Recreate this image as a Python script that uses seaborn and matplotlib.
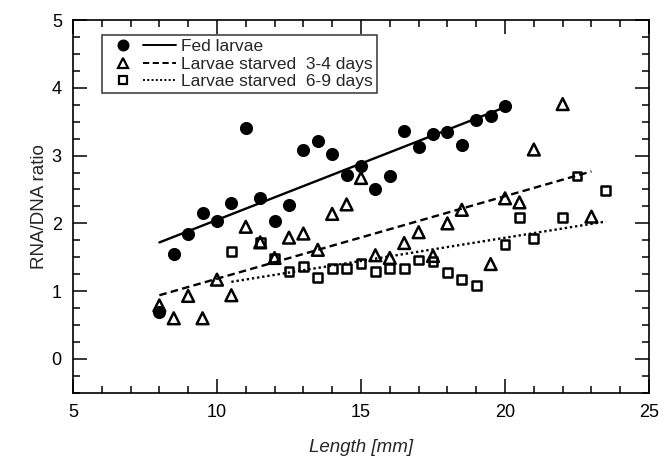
import numpy as np
import pandas as pd

import matplotlib
matplotlib.use("Agg")
import matplotlib.pyplot as plt
from matplotlib.lines import Line2D
from matplotlib.legend_handler import HandlerTuple
from matplotlib.ticker import MultipleLocator
import seaborn as sns

# =========================
# Datos
# =========================
fed_length = [8.0, 8.5, 9.0, 9.5, 10.0, 10.5, 11.0, 11.5, 12.0, 12.5, 13.0, 13.5,
              14.0, 14.5, 15.0, 15.5, 16.0, 16.5, 17.0, 17.5, 18.0, 18.5, 19.0,
              19.5, 20.0]
fed_ratio = [0.69, 1.55, 1.85, 2.15, 2.04, 2.30, 3.40, 2.37, 2.04, 2.27, 3.08, 3.22,
             3.02, 2.71, 2.85, 2.50, 2.70, 3.37, 3.13, 3.32, 3.35, 3.15, 3.53,
             3.59, 3.73]

st34_length = [8.0, 8.5, 9.0, 9.5, 10.0, 10.5, 11.0, 11.5, 12.0, 12.5, 13.0, 13.5,
               14.0, 14.5, 15.0, 15.5, 16.0, 16.5, 17.0, 17.5, 18.0, 18.5, 19.5,
               20.0, 20.5, 21.0, 22.0, 23.0]
st34_ratio = [0.79, 0.60, 0.93, 0.60, 1.17, 0.94, 1.95, 1.72, 1.49, 1.79, 1.85, 1.61,
              2.14, 2.28, 2.67, 1.53, 1.49, 1.71, 1.87, 1.52, 2.00, 2.20, 1.40,
              2.37, 2.31, 3.09, 3.76, 2.10]

st69_length = [10.5, 11.5, 12.0, 12.5, 13.0, 13.5, 14.0, 14.5, 15.0, 15.5, 16.0,
               16.5, 17.0, 17.5, 18.0, 18.5, 19.0, 20.0, 20.5, 21.0, 22.0, 22.5, 23.5]
st69_ratio = [1.58, 1.72, 1.49, 1.29, 1.36, 1.20, 1.33, 1.33, 1.41, 1.29, 1.33,
              1.33, 1.46, 1.44, 1.27, 1.17, 1.08, 1.69, 2.09, 1.78, 2.09, 2.70, 2.49]

labels = ["Fed larvae", "Larvae starved  3-4 days", "Larvae starved  6-9 days"]

df = pd.concat([
    pd.DataFrame({"length": fed_length, "ratio": fed_ratio, "group": labels[0]}),
    pd.DataFrame({"length": st34_length, "ratio": st34_ratio, "group": labels[1]}),
    pd.DataFrame({"length": st69_length, "ratio": st69_ratio, "group": labels[2]}),
])

# =========================
# Estilo
# =========================
sns.set_style("ticks")
plt.rcParams["font.family"] = ["Liberation Sans", "DejaVu Sans"]

fig = plt.figure(figsize=(6.63, 4.66), dpi=100)
ax = fig.add_axes([0.110, 0.157, 0.869, 0.800])

estilos = {
    labels[0]: dict(marker="o", face="black", s=58, ls="-"),
    labels[1]: dict(marker="^", face="none", s=72, ls=(0, (3.2, 1.8))),
    labels[2]: dict(marker="s", face="none", s=40, ls=(0, (1.0, 1.2))),
}

handles = []
for g in labels:
    st = estilos[g]
    sub = df[df["group"] == g]
    sns.regplot(
        data=sub, x="length", y="ratio", ax=ax, ci=None, truncate=True,
        marker=st["marker"],
        scatter_kws=dict(s=st["s"], facecolors=st["face"], edgecolors="black",
                         linewidths=1.8, color="black", alpha=1, zorder=3),
        line_kws=dict(color="black", linestyle=st["ls"], linewidth=1.7, zorder=2),
    )
    punto = Line2D([], [], marker=st["marker"], color="black", linestyle="none",
                   markerfacecolor="black" if st["face"] == "black" else "white",
                   markeredgewidth=1.6, markersize=7 if st["marker"] != "s" else 5.5)
    linea = Line2D([], [], color="black", linestyle=st["ls"], linewidth=1.4)
    handles.append((punto, linea))

# =========================
# Ejes
# =========================
ax.set_xlim(5, 25)
ax.set_ylim(-0.5, 5)
ax.xaxis.set_major_locator(MultipleLocator(5))
ax.xaxis.set_minor_locator(MultipleLocator(1))
ax.yaxis.set_major_locator(MultipleLocator(1))
ax.yaxis.set_minor_locator(MultipleLocator(0.25))
ax.tick_params(which="both", direction="in", top=True, right=True, width=1.1,
               labelsize=13, colors="black")
ax.tick_params(which="major", length=10, pad=8)
ax.tick_params(which="minor", length=5)
for sp in ax.spines.values():
    sp.set_linewidth(1.2)
    sp.set_color("black")

ax.set_xlabel("Length [mm]", fontsize=13.5, style="italic", labelpad=13)
ax.set_ylabel("RNA/DNA ratio", fontsize=13.5, labelpad=3)

leg = ax.legend(handles, labels, handler_map={tuple: HandlerTuple(ndivide=None, pad=0.2)},
                loc="upper left", bbox_to_anchor=(0.05, 0.96), handlelength=4.0,
                handletextpad=0.3, labelspacing=0.12, fontsize=12.5, frameon=True,
                fancybox=False, edgecolor="black", borderpad=0.25, borderaxespad=0)
leg.get_frame().set_linewidth(1.1)

fig.savefig("out.png", dpi=100)
